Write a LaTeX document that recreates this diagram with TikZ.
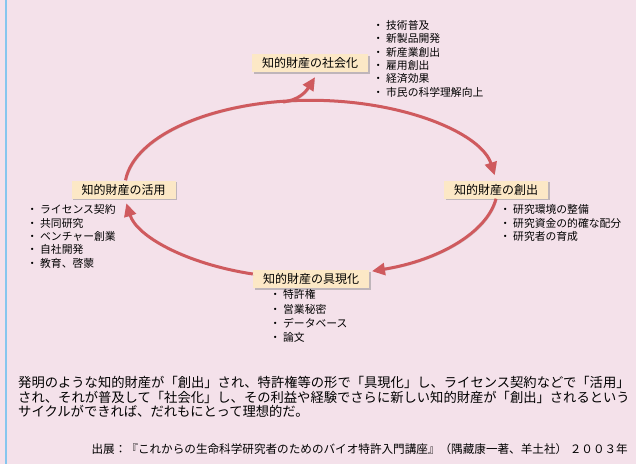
\documentclass[tikz,border=0pt]{standalone}
\usepackage{fontspec}
\setmainfont{Noto Sans CJK JP}
\usetikzlibrary{arrows.meta,shadows}
\definecolor{bg}{HTML}{F4E1EA}
\definecolor{labfill}{HTML}{FCE8C6}
\definecolor{arr}{HTML}{CF5A5E}
\definecolor{edgeblue}{HTML}{86C6EE}
\newcommand\itm{\makebox[16pt][c]{・}}
\begin{document}
\begin{tikzpicture}[x=1pt,y=1pt,
  labbox/.style={fill=labfill, font=\fontsize{12}{14}\selectfont, inner xsep=10pt, inner ysep=0pt,
    minimum height=18pt,
    drop shadow={shadow xshift=1.8pt,shadow yshift=-1.8pt,fill=black!50,opacity=0.45}},
  listtext/.style={font=\fontsize{10.8}{13.4}\selectfont, align=left, inner sep=0pt, anchor=north west},
  cyc/.style={draw=arr, line width=3pt, -{Triangle[length=13pt,width=12pt]},
    preaction={draw=black!45, opacity=0.35, transform canvas={shift={(1.2pt,-1.2pt)}}}},
]
\fill[bg] (0,0) rectangle (636,-464);
\useasboundingbox (0,0) rectangle (636,-464);
\draw[edgeblue, line width=2pt] (6,0) -- (6,-464);

% labels
\node[labbox] (soc) at (310,-63) {知的財産の社会化};
\node[labbox] (kat) at (123.5,-189.5) {知的財産の活用};
\node[labbox] (sou) at (496,-189.5) {知的財産の創出};
\node[labbox] (gu) at (311,-279) {知的財産の具現化};

% cycle arrows
\coordinate (brs) at (283,-102);
\draw[cyc] ([xshift=2pt]kat.north) arc[start angle=174.8, end angle=8.5, x radius=186, y radius=88];
\draw[cyc] (brs) .. controls (298,-100) and (305,-93) .. ([xshift=5pt,yshift=-5pt]soc.south);
\draw[cyc] (sou.south) arc[start angle=-7, end angle=-71, x radius=186, y radius=88];
\draw[cyc] ([yshift=5pt]gu.west) arc[start angle=252, end angle=188.5, x radius=186, y radius=88];

% lists
\node[listtext] (lsoc) at (370,-20) {\itm 技術普及\\\itm 新製品開発\\\itm 新産業創出\\\itm 雇用創出\\\itm 経済効果\\\itm 市民の科学理解向上};
\node[listtext] (lkat) at (24,-204.5) {\itm ライセンス契約\\\itm 共同研究\\\itm ベンチャー創業\\\itm 自社開発\\\itm 教育、啓蒙};
\node[listtext] (lsou) at (497,-204.5) {\itm 研究環境の整備\\\itm 研究資金の的確な配分\\\itm 研究者の育成};
\node[listtext, font=\fontsize{10.8}{14.3}\selectfont] (lgu) at (267,-289.5) {\itm 特許権\\\itm 営業秘密\\\itm データベース\\\itm 論文};

% paragraph
\node[anchor=north west, inner sep=0pt, align=left, font=\fontsize{13.3}{14.5}\selectfont] (para) at (18,-376.5)
  {発明のような知的財産が「創出」され、特許権等の形で「具現化」し、ライセンス契約などで「活用」\\
   され、それが普及して「社会化」し、その利益や経験でさらに新しい知的財産が「創出」されるという\\
   サイクルができれば、だれもにとって理想的だ。};
\node[anchor=east, inner sep=0pt, font=\fontsize{11.6}{13}\selectfont] (src) at (628,-449)
  {出展：『これからの生命科学研究者のためのバイオ特許入門講座』（隅藏康一著、羊土社） ２００３年};
\end{tikzpicture}
\end{document}
